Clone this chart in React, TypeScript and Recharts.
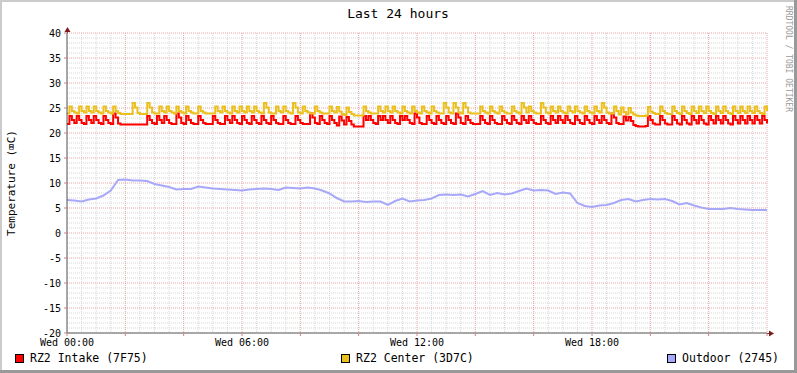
import React from "react";
import { LineChart, Line, XAxis, YAxis, CartesianGrid } from "recharts";

const FONT = '"DejaVu Sans Mono", monospace';
const W = 797;
const H = 373;

// room sensors, one sample every 5 minutes from Wed 00:00
const INTAKE = [
  21.8, 23.4, 22.6, 22.0, 23.4, 22.6, 22.0, 21.8, 23.4, 22.6, 22.0, 23.4,
  22.6, 22.0, 21.8, 23.4, 22.6, 22.0, 21.8, 23.9, 23.1, 21.9, 21.7, 21.7,
  21.7, 21.7, 21.7, 21.7, 21.7, 21.7, 21.7, 21.7, 21.7, 23.4, 22.6, 22.0,
  21.8, 23.4, 22.6, 22.0, 23.4, 22.6, 22.0, 21.8, 21.8, 23.9, 23.1, 22.0,
  21.8, 23.4, 22.6, 22.0, 21.8, 21.8, 23.4, 22.6, 22.0, 21.8, 21.8, 21.8,
  23.4, 22.6, 22.0, 21.8, 21.8, 23.4, 22.6, 22.0, 23.4, 22.6, 22.0, 21.8,
  23.4, 22.6, 22.0, 21.8, 23.4, 22.6, 22.0, 21.8, 23.4, 22.6, 22.0, 21.8,
  23.4, 22.6, 22.0, 21.8, 21.8, 23.4, 22.6, 22.0, 21.8, 21.8, 23.4, 22.6,
  22.0, 21.8, 21.8, 21.8, 23.9, 23.1, 22.0, 21.8, 23.4, 22.6, 22.0, 21.8,
  23.4, 22.6, 22.0, 21.5, 23.3, 22.5, 21.7, 23.2, 22.4, 21.7, 21.3, 21.3,
  21.3, 21.3, 23.4, 22.6, 23.4, 22.6, 22.0, 21.8, 23.4, 22.6, 23.4, 22.6,
  22.0, 23.4, 22.6, 22.0, 21.8, 23.4, 22.6, 23.4, 22.6, 22.0, 21.8, 23.9,
  23.1, 22.0, 21.8, 21.8, 23.4, 22.6, 22.0, 21.8, 23.4, 22.6, 22.0, 21.8,
  23.4, 22.6, 22.0, 21.8, 23.9, 23.1, 22.0, 21.8, 23.4, 22.6, 22.0, 21.8,
  21.8, 21.8, 23.4, 22.6, 22.0, 21.8, 23.4, 22.6, 22.0, 21.8, 21.8, 23.4,
  22.6, 22.0, 21.8, 23.4, 22.6, 22.0, 21.8, 23.4, 22.6, 22.0, 23.4, 22.6,
  22.0, 21.8, 21.8, 23.4, 22.6, 22.0, 21.8, 23.4, 22.6, 22.0, 23.4, 22.6,
  22.0, 23.4, 22.6, 22.0, 21.8, 23.4, 22.6, 22.0, 21.8, 23.4, 22.6, 22.0,
  21.8, 23.4, 22.6, 22.0, 23.4, 22.6, 22.0, 21.8, 23.9, 23.1, 22.0, 21.8,
  21.8, 23.3, 22.5, 23.2, 22.4, 21.6, 21.4, 21.3, 21.3, 21.3, 21.4, 23.4,
  22.6, 21.9, 21.7, 21.7, 23.4, 22.6, 21.9, 21.7, 21.7, 23.4, 22.6, 21.9,
  21.7, 23.4, 22.6, 21.9, 21.7, 23.4, 22.6, 21.9, 23.4, 22.6, 21.9, 21.7,
  23.4, 22.6, 21.9, 23.4, 22.6, 21.9, 23.4, 22.6, 21.9, 21.7, 23.4, 22.6,
  21.9, 23.4, 22.6, 21.9, 23.4, 22.6, 21.9, 23.4, 22.6, 21.9, 23.4, 22.6,
  21.9,
];

const CENTER = [
  23.9, 25.3, 24.4, 24.1, 23.9, 25.3, 24.4, 24.1, 25.3, 24.4, 24.1, 25.3,
  24.4, 24.1, 23.9, 25.3, 24.4, 24.1, 23.9, 25.3, 24.4, 24.0, 23.8, 23.8,
  23.8, 23.8, 23.8, 26.0, 25.1, 24.0, 23.8, 23.8, 23.8, 26.0, 25.1, 24.1,
  23.9, 23.9, 25.3, 24.4, 24.1, 25.3, 24.4, 24.1, 23.9, 25.3, 24.4, 24.1,
  23.9, 25.3, 24.4, 24.1, 23.9, 23.9, 25.3, 24.4, 24.1, 23.9, 23.9, 23.9,
  23.9, 25.3, 24.4, 24.1, 25.3, 24.4, 24.1, 23.9, 25.3, 24.4, 24.1, 25.3,
  24.4, 24.1, 25.3, 24.4, 24.1, 25.3, 24.4, 24.1, 23.9, 26.0, 25.1, 24.1,
  23.9, 23.9, 25.3, 24.4, 24.1, 25.3, 24.4, 24.1, 23.9, 26.0, 25.1, 24.1,
  23.9, 25.3, 24.4, 24.1, 23.9, 23.9, 25.3, 24.4, 24.1, 23.9, 23.9, 23.9,
  25.3, 24.4, 24.1, 25.2, 24.3, 23.8, 23.6, 25.1, 24.2, 23.8, 23.5, 23.5,
  23.5, 23.5, 25.3, 24.4, 24.1, 23.9, 23.9, 23.9, 25.3, 24.4, 24.1, 25.3,
  24.4, 24.1, 25.3, 24.4, 24.1, 23.9, 25.3, 24.4, 24.1, 23.9, 25.3, 24.4,
  24.1, 23.9, 25.3, 24.4, 24.1, 23.9, 25.3, 24.4, 24.1, 23.9, 23.9, 26.0,
  25.1, 24.1, 23.9, 26.0, 25.1, 24.1, 23.9, 26.0, 25.1, 24.1, 23.9, 23.9,
  23.9, 23.9, 25.3, 24.4, 24.1, 23.9, 25.3, 24.4, 24.1, 23.9, 25.3, 24.4,
  24.1, 23.9, 23.9, 25.3, 24.4, 24.1, 23.9, 26.0, 25.1, 24.1, 25.3, 24.4,
  24.1, 23.9, 23.9, 26.0, 25.1, 24.1, 23.9, 25.3, 24.4, 24.1, 25.3, 24.4,
  24.1, 23.9, 25.3, 24.4, 24.1, 25.3, 24.4, 24.1, 23.9, 25.3, 24.4, 24.1,
  23.9, 25.3, 24.4, 24.1, 26.0, 25.1, 24.1, 23.9, 23.9, 25.3, 24.4, 23.7,
  25.1, 24.2, 23.7, 25.0, 24.1, 23.7, 23.5, 23.4, 23.4, 23.4, 23.5, 25.2,
  24.3, 24.0, 23.8, 23.8, 25.3, 24.4, 24.0, 23.8, 23.8, 25.3, 24.4, 24.0,
  23.8, 25.3, 24.4, 24.0, 23.8, 25.3, 24.4, 24.0, 25.3, 24.4, 24.0, 25.3,
  24.4, 24.0, 23.8, 25.3, 24.4, 24.0, 25.3, 24.4, 24.0, 23.8, 25.3, 24.4,
  24.0, 25.3, 24.4, 24.0, 25.3, 24.4, 24.0, 25.3, 24.4, 24.0, 23.8, 25.3,
  24.4,
];

// outdoor sensor, one sample every 15 minutes
const OUTDOOR = [
  6.6, 6.5, 6.3, 6.7, 6.9, 7.5, 8.5, 10.6, 10.7, 10.5, 10.5, 10.4,
  9.8, 9.5, 9.2, 8.7, 8.8, 8.8, 9.3, 9.1, 8.9, 8.8, 8.7, 8.6,
  8.5, 8.7, 8.8, 8.9, 8.8, 8.6, 9.1, 9.0, 8.9, 9.1, 8.9, 8.5,
  7.9, 7.0, 6.3, 6.3, 6.4, 6.2, 6.3, 6.3, 5.6, 6.4, 6.9, 6.3,
  6.5, 6.6, 6.9, 7.6, 7.7, 7.6, 7.7, 7.3, 7.8, 8.4, 7.6, 8.0,
  7.7, 7.9, 8.4, 8.9, 8.5, 8.6, 8.5, 7.8, 8.1, 7.9, 6.0, 5.4,
  5.2, 5.5, 5.6, 6.0, 6.6, 6.8, 6.3, 6.6, 6.8, 6.7, 6.8, 6.4,
  5.7, 6.0, 5.5, 5.1, 4.8, 4.8, 4.8, 5.0, 4.8, 4.7, 4.6, 4.6,
  4.6,
];

const X_TICKS = [0, 120, 240, 360, 480, 600, 720, 840, 960, 1080, 1200, 1320, 1440];
const X_LABELS: Record<number, string> = {
  0: "Wed 00:00",
  360: "Wed 06:00",
  720: "Wed 12:00",
  1080: "Wed 18:00",
};
const Y_TICKS = [-20, -15, -10, -5, 0, 5, 10, 15, 20, 25, 30, 35, 40];

const SERIES = [
  { key: "intake", label: "RZ2 Intake (7F75)", color: "#FF0000" },
  { key: "center", label: "RZ2 Center (3D7C)", color: "#EAC01E" },
  { key: "outdoor", label: "Outdoor (2745)", color: "#A8A8FA" },
];

const roomData = INTAKE.map((v, i) => ({ t: i * 5, intake: v, center: CENTER[i] }));
const outdoorData = OUTDOOR.map((v, i) => ({ t: i * 15, outdoor: v }));

// minor grid: every degree / half hour, major grid on the labelled steps
const minorY: number[] = [];
for (let v = -19; v <= 40; v++) if (v % 5 !== 0) minorY.push(v);
const minorX: number[] = [];
for (let m = 30; m <= 1440; m += 30) if (m % 120 !== 0) minorX.push(m);
const majorY = Y_TICKS.filter((v) => v !== -20);
const majorX = X_TICKS.filter((v) => v !== 0);

const axisTick = { fontSize: 10, fill: "#000", fontFamily: FONT };

function Legend() {
  return (
    <div
      style={{
        position: "absolute",
        left: 0,
        top: 351,
        width: W,
        display: "flex",
        justifyContent: "space-between",
        boxSizing: "border-box",
        paddingLeft: 15,
        paddingRight: 18,
        fontFamily: FONT,
        fontSize: 11.5,
        color: "#000",
        lineHeight: "14px",
      }}
    >
      {SERIES.map((s) => (
        <div key={s.key} style={{ display: "flex", alignItems: "center" }}>
          <span
            style={{
              display: "inline-block",
              width: 7,
              height: 7,
              background: s.color,
              border: "1px solid #000",
              marginRight: 6,
            }}
          />
          <span style={{ whiteSpace: "pre" }}>{s.label}</span>
        </div>
      ))}
    </div>
  );
}

export default function App() {
  return (
    <div style={{ position: "absolute", left: 0, top: 0, width: W, height: H, background: "#fff" }}>
      <LineChart width={W} height={H} data={roomData} margin={{ top: 33, right: 30, bottom: 0, left: 0 }}>
        <CartesianGrid
          horizontalValues={minorY}
          verticalValues={minorX}
          stroke="#D6D6D6"
          strokeDasharray="1 1"
        />
        <CartesianGrid
          horizontalValues={majorY}
          verticalValues={majorX}
          stroke="#E4A4A4"
          strokeDasharray="1 1"
        />
        <XAxis
          dataKey="t"
          type="number"
          domain={[0, 1440]}
          ticks={X_TICKS}
          interval={0}
          tickFormatter={(v: number) => X_LABELS[v] ?? ""}
          height={40}
          tick={axisTick}
          tickSize={3}
          tickMargin={3}
          tickLine={{ stroke: "#D08080" }}
          axisLine={{ stroke: "#505050" }}
        />
        <YAxis
          type="number"
          domain={[-20, 40]}
          ticks={Y_TICKS}
          interval={0}
          width={67}
          tick={axisTick}
          tickSize={3}
          tickMargin={3}
          tickLine={{ stroke: "#D08080" }}
          axisLine={{ stroke: "#505050" }}
        />
        <Line type="stepAfter" dataKey="intake" name={SERIES[0].label} stroke={SERIES[0].color} strokeWidth={2} dot={false} activeDot={false} isAnimationActive={false} />
        <Line type="stepAfter" dataKey="center" name={SERIES[1].label} stroke={SERIES[1].color} strokeWidth={2} dot={false} activeDot={false} isAnimationActive={false} />
        <Line data={outdoorData} dataKey="outdoor" name={SERIES[2].label} stroke={SERIES[2].color} strokeWidth={2} dot={false} activeDot={false} isAnimationActive={false} />
      </LineChart>

      <svg width={W} height={H} style={{ position: "absolute", left: 0, top: 0, pointerEvents: "none" }}>
        {/* frame shading */}
        <rect x={0} y={0} width={W} height={2} fill="#CBCBCB" />
        <rect x={0} y={0} width={2} height={H} fill="#CBCBCB" />
        <rect x={0} y={H - 3} width={W} height={3} fill="#999999" />
        <rect x={W - 3} y={0} width={3} height={H} fill="#999999" />
        {/* axis arrows */}
        <line x1={767} y1={333.5} x2={770} y2={333.5} stroke="#505050" />
        <polygon points="769,330.5 774,333.5 769,336.5" fill="#7F1A1A" />
        <line x1={67.5} y1={33} x2={67.5} y2={30} stroke="#505050" />
        <polygon points="64.5,32 67.5,27 70.5,32" fill="#7F1A1A" />
        <text x={398} y={18} textAnchor="middle" fontFamily={FONT} fontSize={13} fill="#000">
          Last 24 hours
        </text>
        <text
          x={15}
          y={183}
          transform="rotate(-90 15 183)"
          textAnchor="middle"
          fontFamily={FONT}
          fontSize={11}
          fill="#000"
        >
          Temperature (⌧C)
        </text>
        <text
          x={786}
          y={6}
          transform="rotate(90 786 6)"
          fontFamily={FONT}
          fontSize={8}
          fill="#9A9A9A"
        >
          RRDTOOL / TOBI OETIKER
        </text>
      </svg>
      <Legend />
    </div>
  );
}
